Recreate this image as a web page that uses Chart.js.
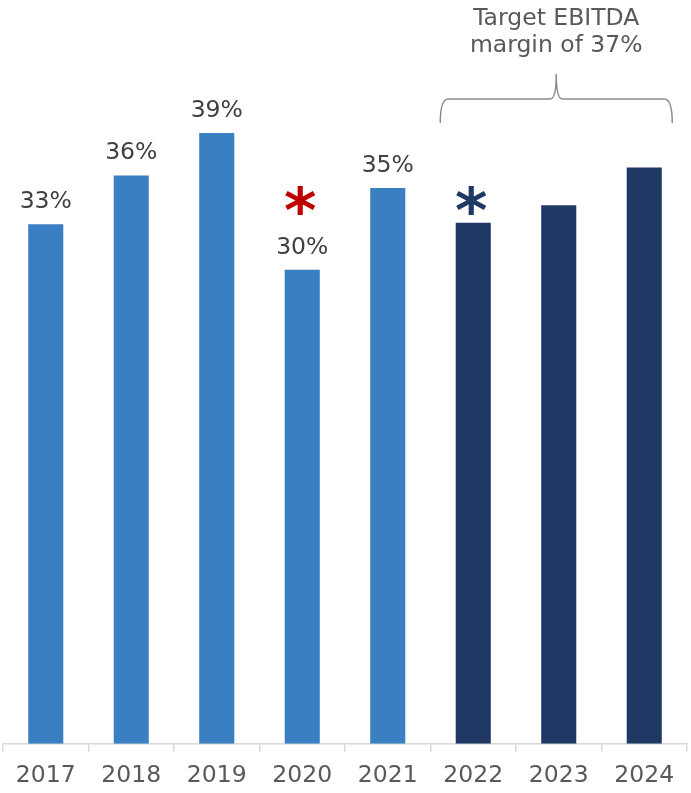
<!DOCTYPE html>
<html>
<head>
<meta charset="utf-8">
<script src="https://cdn.jsdelivr.net/npm/chart.js@4"></script>
<style>
  html, body { margin: 0; padding: 0; background: #ffffff; }
  #wrap { width: 691px; height: 793px; }
</style>
</head>
<body>
<div id="wrap"><canvas id="marginChart"></canvas></div>
<script>
// EBITDA margin, actuals 2017-2021, plan 2022-2024
const years = ['2017', '2018', '2019', '2020', '2021', '2022', '2023', '2024'];
const margins = [33.0, 36.1, 38.8, 30.1, 35.3, 33.1, 34.2, 36.6];
const marginLabels = ['33%', '36%', '39%', '30%', '35%', '', '', ''];
const isForecast = [false, false, false, false, false, true, true, true];
const asteriskYears = ['2020', '2022'];
const targetText = ['Target EBITDA', 'margin of 37%'];

const FONT = '"DejaVu Sans", Verdana, sans-serif';

// value labels, asterisks and the target brace
const annotations = {
    id: 'annotations',
    afterDatasetsDraw(chart) {
        const ctx = chart.ctx;
        const meta = chart.getDatasetMeta(0);
        const xs = chart.scales.x;
        ctx.save();
        ctx.font = '23.5px ' + FONT;
        ctx.fillStyle = '#404040';
        ctx.textAlign = 'center';
        ctx.textBaseline = 'alphabetic';
        meta.data.forEach((bar, i) => {
            if (marginLabels[i]) ctx.fillText(marginLabels[i], bar.x, bar.y - 16);
        });

        // asterisks
        ctx.font = 'bold 62px ' + FONT;
        asteriskYears.forEach((yr, k) => {
            const i = years.indexOf(yr);
            ctx.fillStyle = k === 0 ? '#c00000' : '#1f3864';
            ctx.fillText('*', xs.getPixelForValue(i) - 2, 232);
        });

        // brace over forecast years
        const left = xs.getPixelForValue(5) - 33;
        const right = xs.getPixelForValue(7) + 28;
        const mid = (left + right) / 2;
        ctx.strokeStyle = '#8c8c8c';
        ctx.lineWidth = 1.5;
        ctx.beginPath();
        ctx.moveTo(left, 123);
        ctx.quadraticCurveTo(left, 99, left + 8, 99);
        ctx.lineTo(mid - 6, 99);
        ctx.quadraticCurveTo(mid, 99, mid, 74);
        ctx.quadraticCurveTo(mid, 99, mid + 6, 99);
        ctx.lineTo(right - 8, 99);
        ctx.quadraticCurveTo(right, 99, right, 123);
        ctx.stroke();

        ctx.font = '23.5px ' + FONT;
        ctx.fillStyle = '#595959';
        ctx.fillText(targetText[0], mid, 25);
        ctx.fillText(targetText[1], mid, 52);
        ctx.restore();
    }
};

const ctxMargin = document.getElementById('marginChart').getContext('2d');
const marginChart = new Chart(ctxMargin, {
    type: 'bar',
    data: {
        labels: years,
        datasets: [{
            data: margins,
            backgroundColor: isForecast.map(f => f ? '#203864' : '#3a7fc1'),
            borderWidth: 0,
            categoryPercentage: 1,
            barPercentage: 0.41
        }]
    },
    options: {
        responsive: true,
        maintainAspectRatio: false,
        animation: false,
        layout: { padding: { left: 3, right: 4, top: 0, bottom: -7 } },
        scales: {
            x: {
                border: { color: '#d9d9d9', width: 1.5 },
                grid: { drawOnChartArea: false, drawTicks: true, tickLength: 8, color: '#d9d9d9', lineWidth: 1.5 },
                ticks: { color: '#595959', font: { family: FONT, size: 23.5 }, padding: 10 }
            },
            y: { display: false, min: 0, max: 47.24 }
        },
        plugins: {
            legend: { display: false },
            tooltip: { enabled: false }
        }
    },
    plugins: [annotations]
});
</script>
</body>
</html>
